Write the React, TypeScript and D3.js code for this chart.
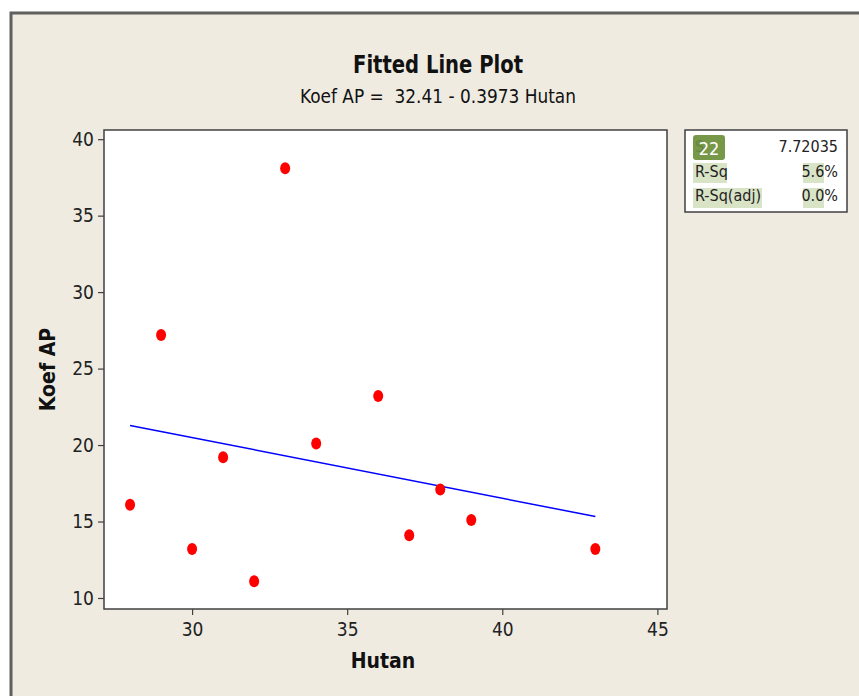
import React, { useEffect, useRef } from 'react';
import * as d3 from 'd3';

// observed data (Hutan vs Koef AP)
const hutan = [28, 29, 30, 31, 32, 33, 34, 36, 37, 38, 39, 43];
const koefAP = [16.1, 27.2, 13.2, 19.2, 11.1, 38.1, 20.1, 23.2, 14.1, 17.1, 15.1, 13.2];
const intercept = 32.41;
const slope = -0.3973;
const xTicks = [30, 35, 40, 45];
const yTicks = [10, 15, 20, 25, 30, 35, 40];
const statLabels = ['S', 'R-Sq', 'R-Sq(adj)'];
const statValues = ['7.72035', '5.6%', '0.0%'];

const FONT = '"DejaVu Sans Condensed", "Liberation Sans Narrow", Arial, sans-serif';

const App = () => {
  const svgRef = useRef(null);

  useEffect(() => {
    const svg = d3.select(svgRef.current);
    svg.selectAll('*').remove();

    const left = 104, right = 667, top = 130, bottom = 609;

    // background frame
    svg.append('rect').attr('x', 0).attr('y', 0).attr('width', 859).attr('height', 696).attr('fill', '#ffffff');
    svg.append('rect')
      .attr('x', 11).attr('y', 13).attr('width', 900).attr('height', 720)
      .attr('fill', '#efebe1').attr('stroke', '#5f5f5f').attr('stroke-width', 3);

    const x = d3.scaleLinear().domain([27.16, 45.31]).range([left, right]);
    const y = d3.scaleLinear().domain([9.28, 40.6]).range([bottom, top]);

    // titles
    svg.append('text')
      .attr('x', 438).attr('y', 73).attr('text-anchor', 'middle')
      .attr('textLength', 170).attr('lengthAdjust', 'spacingAndGlyphs')
      .style('font-family', FONT).style('font-size', '25px').style('font-weight', 'bold')
      .attr('fill', '#111').text('Fitted Line Plot');
    svg.append('text')
      .attr('x', 438).attr('y', 103).attr('text-anchor', 'middle')
      .attr('textLength', 276).attr('lengthAdjust', 'spacingAndGlyphs')
      .style('font-family', FONT).style('font-size', '20px')
      .attr('fill', '#111').attr('xml:space', 'preserve')
      .text(`Koef AP =  ${intercept} - ${Math.abs(slope)} Hutan`);

    // plot area
    svg.append('rect')
      .attr('x', left).attr('y', top).attr('width', right - left).attr('height', bottom - top)
      .attr('fill', '#ffffff').attr('stroke', '#404040').attr('stroke-width', 1.5);

    // x axis
    const gx = svg.append('g').attr('transform', `translate(0, ${bottom})`);
    gx.call(d3.axisBottom(x).tickValues(xTicks).tickSize(6).tickPadding(8).tickSizeOuter(0));
    gx.select('.domain').remove();
    gx.selectAll('line').attr('stroke', '#404040').attr('stroke-width', 1.2);
    gx.selectAll('text').style('font-family', FONT).style('font-size', '19px').attr('fill', '#222');

    // y axis
    const gy = svg.append('g').attr('transform', `translate(${left}, 0)`);
    gy.call(d3.axisLeft(y).tickValues(yTicks).tickSize(6).tickPadding(4).tickSizeOuter(0));
    gy.select('.domain').remove();
    gy.selectAll('line').attr('stroke', '#404040').attr('stroke-width', 1.2);
    gy.selectAll('text').style('font-family', FONT).style('font-size', '19px').attr('fill', '#222');

    // axis labels
    svg.append('text')
      .attr('x', 383).attr('y', 668).attr('text-anchor', 'middle')
      .style('font-family', FONT).style('font-size', '21px').style('font-weight', 'bold')
      .attr('fill', '#111').text('Hutan');
    svg.append('text')
      .attr('transform', `translate(55, ${(top + bottom) / 2}) rotate(-90)`)
      .attr('text-anchor', 'middle')
      .style('font-family', FONT).style('font-size', '21px').style('font-weight', 'bold')
      .attr('fill', '#111').text('Koef AP');

    // fitted line
    const xMin = d3.min(hutan), xMax = d3.max(hutan);
    svg.append('line')
      .attr('x1', x(xMin)).attr('y1', y(intercept + slope * xMin))
      .attr('x2', x(xMax)).attr('y2', y(intercept + slope * xMax))
      .attr('stroke', '#0000ff').attr('stroke-width', 1.5);

    // points
    svg.selectAll('.pt')
      .data(hutan.map((h, i) => [h, koefAP[i]]))
      .enter().append('ellipse')
      .attr('class', 'pt')
      .attr('cx', d => x(d[0])).attr('cy', d => y(d[1]))
      .attr('rx', 5).attr('ry', 6)
      .attr('fill', '#ff0000');

    // stats box
    const bx = 685, by = 130, bw = 162, bh = 82;
    svg.append('rect')
      .attr('x', bx).attr('y', by).attr('width', bw).attr('height', bh)
      .attr('fill', '#ffffff').attr('stroke', '#404040').attr('stroke-width', 1.5);

    const rowY = [152, 177, 201];
    const hl = '#d9e3c6';
    // label highlights
    svg.append('rect').attr('x', 693).attr('y', 163).attr('width', 34).attr('height', 20).attr('fill', hl);
    svg.append('rect').attr('x', 693).attr('y', 188).attr('width', 69).attr('height', 20).attr('fill', hl);
    svg.append('rect').attr('x', 803).attr('y', 163).attr('width', 21).attr('height', 20).attr('fill', hl);
    svg.append('rect').attr('x', 803).attr('y', 188).attr('width', 21).attr('height', 20).attr('fill', hl);

    statLabels.forEach((l, i) => {
      svg.append('text')
        .attr('x', 695).attr('y', rowY[i])
        .style('font-family', FONT).style('font-size', '16px')
        .attr('fill', '#222').text(l);
      svg.append('text')
        .attr('x', 838).attr('y', rowY[i]).attr('text-anchor', 'end')
        .style('font-family', FONT).style('font-size', '16px')
        .attr('fill', '#222').text(statValues[i]);
    });

    // green tag over the S row
    svg.append('rect')
      .attr('x', 693).attr('y', 135).attr('width', 32).attr('height', 25).attr('rx', 3)
      .attr('fill', '#6b8e3a').attr('opacity', 0.92);
    svg.append('text')
      .attr('x', 709).attr('y', 155).attr('text-anchor', 'middle')
      .style('font-family', FONT).style('font-size', '18px')
      .attr('fill', '#ffffff').text('22');
  }, []);

  return (
    <svg ref={svgRef} width={859} height={696}
      style={{ position: 'absolute', left: 0, top: 0, display: 'block' }}></svg>
  );
};

export default App;
